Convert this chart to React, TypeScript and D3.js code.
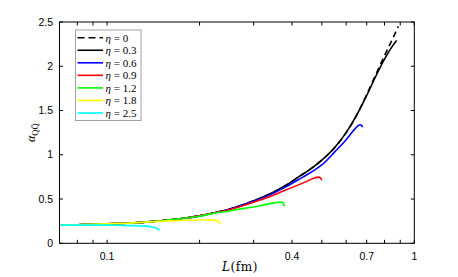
import React from 'react';
import * as d3 from 'd3';

// eta values shown in legend
const etaLabels = ['0', '0.3', '0.6', '0.9', '1.2', '1.8', '2.5'];
const colors = ['#000000', '#000000', '#0000ff', '#ff0000', '#00ff00', '#ffff00', '#00ffff'];

// L (fm) and alpha_QQbar, one pair per eta
const L_eta0 = [0.07, 0.08, 0.09, 0.1, 0.12, 0.14, 0.16, 0.18, 0.2, 0.22, 0.25, 0.28, 0.3, 0.34, 0.38, 0.42, 0.46, 0.5, 0.55, 0.6, 0.65, 0.7, 0.75, 0.8, 0.85, 0.887];
const a_eta0 = [0.205, 0.21, 0.215, 0.22, 0.23, 0.245, 0.265, 0.285, 0.31, 0.34, 0.385, 0.44, 0.48, 0.56, 0.65, 0.75, 0.84, 0.94, 1.08, 1.25, 1.45, 1.68, 1.91, 2.12, 2.31, 2.45];

const L_eta03 = [0.07, 0.08, 0.09, 0.1, 0.12, 0.14, 0.16, 0.18, 0.2, 0.22, 0.25, 0.28, 0.3, 0.34, 0.38, 0.42, 0.46, 0.5, 0.55, 0.6, 0.65, 0.7, 0.75, 0.8, 0.85, 0.876];
const a_eta03 = [0.205, 0.21, 0.215, 0.22, 0.23, 0.245, 0.265, 0.285, 0.31, 0.34, 0.385, 0.44, 0.48, 0.56, 0.65, 0.75, 0.84, 0.94, 1.08, 1.25, 1.45, 1.67, 1.89, 2.08, 2.23, 2.29];

const L_eta06 = [0.07, 0.08, 0.09, 0.1, 0.12, 0.14, 0.16, 0.18, 0.2, 0.22, 0.25, 0.28, 0.3, 0.34, 0.38, 0.42, 0.46, 0.5, 0.55, 0.6, 0.64, 0.665, 0.675, 0.679];
const a_eta06 = [0.205, 0.21, 0.215, 0.22, 0.23, 0.245, 0.265, 0.285, 0.31, 0.34, 0.385, 0.44, 0.475, 0.55, 0.635, 0.72, 0.8, 0.885, 1.03, 1.17, 1.29, 1.34, 1.33, 1.31];

const L_eta09 = [0.07, 0.08, 0.09, 0.1, 0.12, 0.14, 0.16, 0.18, 0.2, 0.22, 0.25, 0.28, 0.3, 0.34, 0.38, 0.42, 0.45, 0.47, 0.488, 0.496, 0.5];
const a_eta09 = [0.205, 0.21, 0.215, 0.22, 0.23, 0.245, 0.265, 0.285, 0.31, 0.34, 0.38, 0.43, 0.465, 0.53, 0.6, 0.66, 0.705, 0.735, 0.748, 0.735, 0.712];

const L_eta12 = [0.07, 0.08, 0.09, 0.1, 0.12, 0.14, 0.16, 0.18, 0.2, 0.22, 0.25, 0.28, 0.3, 0.33, 0.355, 0.37, 0.376, 0.378];
const a_eta12 = [0.205, 0.21, 0.215, 0.22, 0.23, 0.245, 0.265, 0.285, 0.305, 0.335, 0.365, 0.395, 0.41, 0.44, 0.46, 0.465, 0.44, 0.42];

const L_eta18 = [0.07, 0.08, 0.09, 0.1, 0.12, 0.14, 0.16, 0.18, 0.2, 0.22, 0.23, 0.234];
const a_eta18 = [0.205, 0.21, 0.215, 0.22, 0.23, 0.243, 0.253, 0.26, 0.263, 0.262, 0.25, 0.22];

const L_eta25 = [0.07, 0.08, 0.09, 0.1, 0.11, 0.12, 0.13, 0.14, 0.145, 0.148];
const a_eta25 = [0.205, 0.205, 0.205, 0.205, 0.203, 0.2, 0.195, 0.185, 0.17, 0.15];

const seriesL = [L_eta0, L_eta03, L_eta06, L_eta09, L_eta12, L_eta18, L_eta25];
const seriesA = [a_eta0, a_eta03, a_eta06, a_eta09, a_eta12, a_eta18, a_eta25];

const xTicks = [0.08, 0.09, 0.1, 0.2, 0.3, 0.4, 0.5, 0.6, 0.7, 0.8, 0.9, 1];
const xTickLabels = ['0.1', '0.4', '0.7', '1'];
const yTicks = [0, 0.5, 1, 1.5, 2, 2.5];

export default function App() {
  const W = 458;
  const H = 277;
  const left = 59.5, right = 414.3, top = 22, bottom = 243.3;

  const x = d3.scaleLog().domain([0.07, 1]).range([left, right]);
  const y = d3.scaleLinear().domain([0, 2.5]).range([bottom, top]);

  const line = d3.line<[number, number]>()
    .x(d => x(d[0]))
    .y(d => y(d[1]))
    .curve(d3.curveMonotoneX);

  const tickLen = 3.5;
  const sans = 'Liberation Sans, Arial, sans-serif';
  const serif = 'Liberation Serif, Times New Roman, serif';

  const legX = 75.5, legY = 30, legW = 65.5, legH = 90.5;

  return (
    <svg width={W} height={H} style={{ position: 'absolute', left: 0, top: 0, background: '#fff' }}>
      <rect x={0} y={0} width={W} height={H} fill="#fff" />

      {/* curves */}
      <g fill="none" strokeWidth={1.6}>
        {seriesL.map((ls, i) => (
          <path
            key={i}
            d={line(ls.map((l, j) => [l, seriesA[i][j]] as [number, number])) || ''}
            stroke={colors[i]}
            strokeDasharray={i === 0 ? '6,4' : undefined}
          />
        ))}
      </g>

      {/* axes box */}
      <rect x={left} y={top} width={right - left} height={bottom - top} fill="none" stroke="#000" strokeWidth={1} />

      <g stroke="#000" strokeWidth={1}>
        {xTicks.map(t => (
          <g key={t}>
            <line x1={x(t)} x2={x(t)} y1={bottom} y2={bottom - tickLen} />
            <line x1={x(t)} x2={x(t)} y1={top} y2={top + tickLen} />
          </g>
        ))}
        {yTicks.map(t => (
          <g key={t}>
            <line x1={left} x2={left + tickLen} y1={y(t)} y2={y(t)} />
            <line x1={right} x2={right - tickLen} y1={y(t)} y2={y(t)} />
          </g>
        ))}
      </g>

      <g fontFamily={sans} fontSize={10.5} fill="#000">
        {xTickLabels.map(t => (
          <text key={t} x={x(+t)} y={259.5} textAnchor="middle">{t}</text>
        ))}
        {yTicks.map(t => (
          <text key={t} x={53} y={y(t) + 3.7} textAnchor="end">{String(t)}</text>
        ))}
      </g>

      {/* axis labels */}
      <text x={240} y={271} textAnchor="middle" fontFamily="DejaVu Serif, serif" fontSize={12} letterSpacing={0.6}>
        <tspan fontStyle="italic">L</tspan>(fm)
      </text>
      <text transform={`translate(35,${(top + bottom) / 2}) rotate(-90)`} textAnchor="middle" fontFamily={serif} fontSize={12}>
        <tspan fontStyle="italic">α</tspan>
        <tspan fontSize={8.5} dy={2.5}>QQ&#772;</tspan>
      </text>

      {/* legend */}
      <rect x={legX} y={legY} width={legW} height={legH} fill="#fff" stroke="#a0a0a0" strokeWidth={1} />
      {etaLabels.map((lab, i) => {
        const ly = 37.7 + i * 12.55;
        return (
          <g key={lab}>
            <line
              x1={77.5} x2={103} y1={ly} y2={ly}
              stroke={colors[i]} strokeWidth={1.6}
              strokeDasharray={i === 0 ? '7,4' : undefined}
            />
            <text x={105.5} y={ly + 3.8} fontFamily={serif} fontSize={11}>
              <tspan fontStyle="italic">η</tspan> = {lab}
            </text>
          </g>
        );
      })}
    </svg>
  );
}
